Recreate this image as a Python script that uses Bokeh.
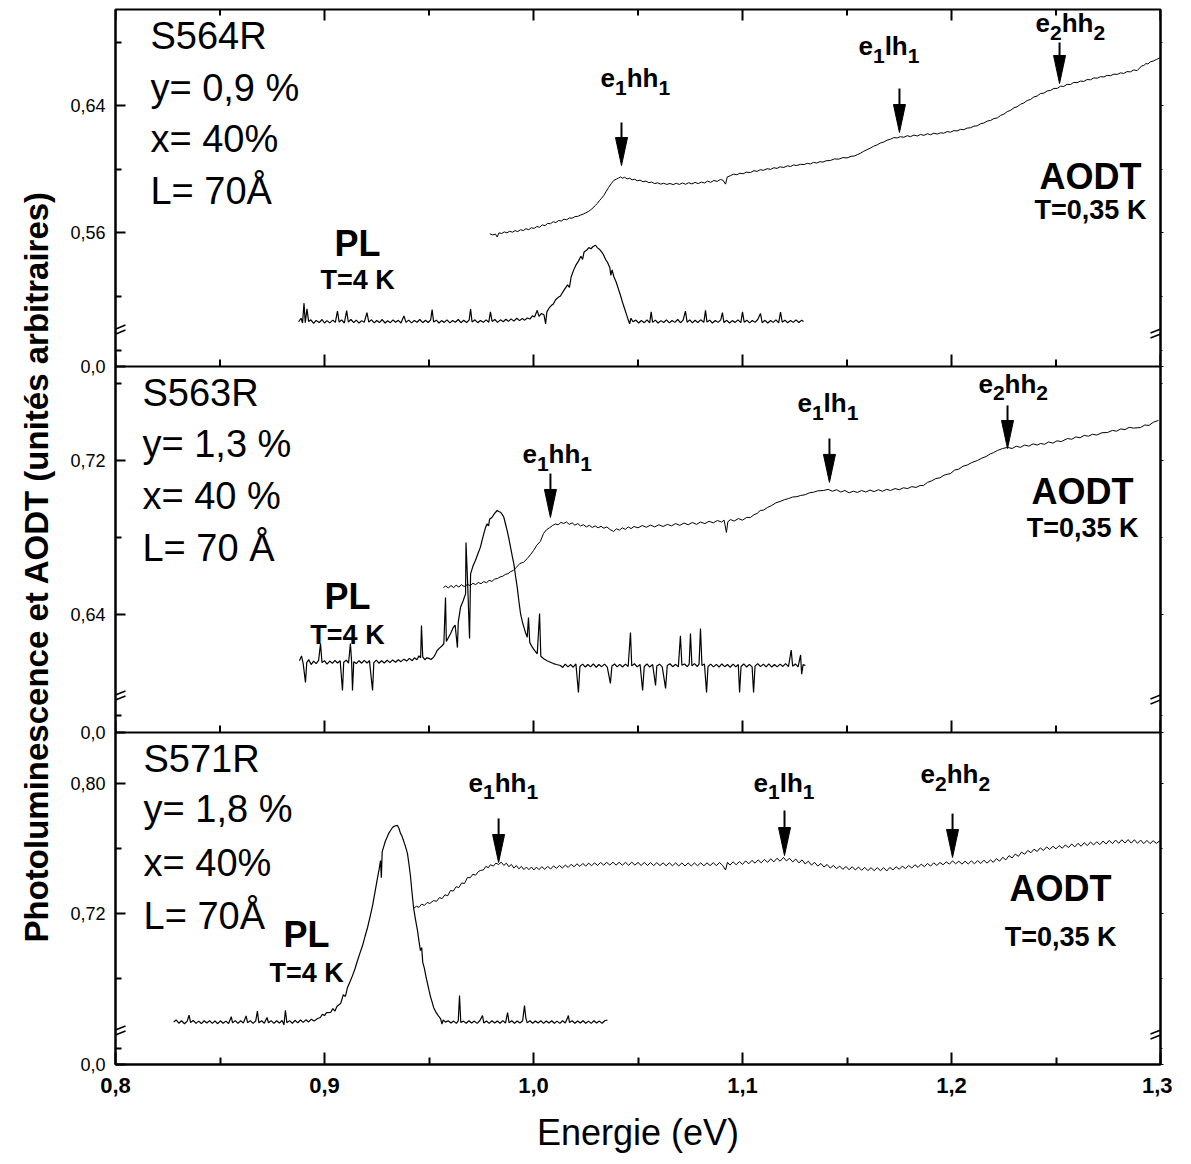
import math
from bokeh.plotting import figure
from bokeh.models import (Range1d, LinearAxis, FixedTicker, CustomJSTickFormatter,
                          ColumnDataSource, Span, Title, Arrow)
from bokeh.core.properties import value
from bokeh.embed import file_html
from bokeh.resources import INLINE

FONT = "Liberation Sans"

# ------------------------------------------------------------------ data
X_MAJOR = [0.8, 0.9, 1.0, 1.1, 1.2, 1.3]
X_MINOR = [0.85, 0.95, 1.05, 1.15, 1.25]

SAMPLES = ["S564R", "S563R", "S571R"]

# y ticks of each panel (lower, broken segment labelled "0,0")
Y_MAJOR = {"S564R": [0.4756, 0.56, 0.64],
           "S563R": [0.5787, 0.64, 0.72],
           "S571R": [0.6271, 0.72, 0.80]}
Y_MAJOR_LABELS = {"S564R": ["0,0", "0,56", "0,64"],
                  "S563R": ["0,0", "0,64", "0,72"],
                  "S571R": ["0,0", "0,72", "0,80"]}
Y_MINOR = {"S564R": [0.4857, 0.52, 0.60, 0.68],
           "S563R": [0.5875, 0.68, 0.76],
           "S571R": [0.6369, 0.68, 0.76]}
Y_BREAK = {"S564R": 0.4976, "S563R": 0.5969, "S571R": 0.6468}

SAMPLE_TEXT = {"S564R": ["S564R", "y= 0,9 %", "x= 40%", "L= 70Å"],
               "S563R": ["S563R", "y= 1,3 %", "x= 40 %", "L= 70 Å"],
               "S571R": ["S571R", "y= 1,8 %", "x= 40%", "L= 70Å"]}

# AODT spectra (energy eV, signal)
S564R_AODT = [
 (0.9791,0.5592),(0.9805,0.5585),(0.9818,0.5590),(0.9826,0.5572),(0.9835,0.5598),(0.9848,0.5594),
 (0.9860,0.5604),(0.9873,0.5598),(0.9886,0.5608),(0.9899,0.5602),(0.9912,0.5612),(0.9925,0.5606),
 (0.9938,0.5618),(0.9951,0.5612),(0.9964,0.5624),(0.9977,0.5618),(0.9990,0.5630),(1.0003,0.5626),
 (1.0016,0.5638),(1.0029,0.5633),(1.0042,0.5648),(1.0055,0.5643),(1.0068,0.5658),(1.0081,0.5655),
 (1.0094,0.5668),(1.0107,0.5663),(1.0120,0.5676),(1.0133,0.5672),(1.0146,0.5684),(1.0159,0.5680),
 (1.0172,0.5692),(1.0185,0.5690),(1.0198,0.5700),(1.0212,0.5702),(1.0225,0.5710),(1.0238,0.5716),
 (1.0250,0.5724),(1.0262,0.5732),(1.0273,0.5742),(1.0285,0.5756),(1.0296,0.5770),(1.0305,0.5783),
 (1.0315,0.5800),(1.0325,0.5815),(1.0336,0.5833),(1.0348,0.5860),(1.0360,0.5885),(1.0372,0.5908),
 (1.0384,0.5928),(1.0396,0.5936),(1.0408,0.5944),(1.0416,0.5950),(1.0426,0.5942),(1.0436,0.5948),
 (1.0448,0.5938),(1.0460,0.5942),(1.0472,0.5932),(1.0484,0.5936),(1.0496,0.5926),(1.0510,0.5930),
 (1.0524,0.5920),(1.0538,0.5924),(1.0552,0.5914),(1.0566,0.5918),(1.0580,0.5908),(1.0594,0.5913),
 (1.0608,0.5905),(1.0623,0.5910),(1.0638,0.5903),(1.0653,0.5909),(1.0668,0.5902),(1.0683,0.5910),
 (1.0698,0.5903),(1.0713,0.5912),(1.0728,0.5904),(1.0743,0.5914),(1.0758,0.5906),(1.0773,0.5916),
 (1.0788,0.5908),(1.0803,0.5918),(1.0818,0.5912),(1.0833,0.5924),(1.0848,0.5916),(1.0863,0.5928),
 (1.0879,0.5922),(1.0894,0.5934),(1.0906,0.5930),(1.0919,0.5905),(1.0927,0.5950),(1.0942,0.5958),
 (1.0958,0.5968),(1.0973,0.5964),(1.0988,0.5974),(1.1003,0.5970),(1.1018,0.5980),(1.1038,0.5978),
 (1.1055,0.5990),(1.1070,0.5985),(1.1085,0.5996),(1.1100,0.5992),(1.1118,0.6002),(1.1135,0.5998),
 (1.1150,0.6008),(1.1165,0.6004),(1.1180,0.6014),(1.1198,0.6010),(1.1215,0.6020),(1.1230,0.6016),
 (1.1245,0.6026),(1.1260,0.6022),(1.1278,0.6030),(1.1295,0.6028),(1.1310,0.6036),(1.1325,0.6032),
 (1.1340,0.6042),(1.1355,0.6038),(1.1370,0.6046),(1.1385,0.6044),(1.1400,0.6052),(1.1421,0.6054),
 (1.1440,0.6064),(1.1460,0.6062),(1.1480,0.6072),(1.1500,0.6070),(1.1520,0.6080),(1.1535,0.6082),
 (1.1549,0.6090),(1.1565,0.6100),(1.1580,0.6112),(1.1596,0.6122),(1.1612,0.6132),(1.1628,0.6144),
 (1.1644,0.6152),(1.1660,0.6164),(1.1676,0.6170),(1.1692,0.6182),(1.1708,0.6188),(1.1724,0.6198),
 (1.1740,0.6196),(1.1756,0.6204),(1.1772,0.6200),(1.1788,0.6210),(1.1804,0.6204),(1.1820,0.6214),
 (1.1836,0.6208),(1.1852,0.6218),(1.1868,0.6212),(1.1884,0.6222),(1.1900,0.6216),(1.1916,0.6226),
 (1.1932,0.6220),(1.1947,0.6228),(1.1963,0.6226),(1.1979,0.6236),(1.1995,0.6232),(1.2011,0.6242),
 (1.2027,0.6240),(1.2043,0.6250),(1.2059,0.6248),(1.2075,0.6258),(1.2091,0.6260),(1.2107,0.6270),
 (1.2123,0.6272),(1.2139,0.6285),(1.2155,0.6290),(1.2171,0.6302),(1.2187,0.6306),(1.2203,0.6318),
 (1.2219,0.6322),(1.2235,0.6338),(1.2251,0.6346),(1.2267,0.6362),(1.2283,0.6370),(1.2299,0.6386),
 (1.2314,0.6392),(1.2330,0.6408),(1.2346,0.6416),(1.2362,0.6432),(1.2378,0.6438),(1.2394,0.6454),
 (1.2410,0.6460),(1.2426,0.6476),(1.2442,0.6478),(1.2458,0.6492),(1.2474,0.6495),(1.2490,0.6508),
 (1.2506,0.6508),(1.2522,0.6522),(1.2537,0.6520),(1.2553,0.6534),(1.2569,0.6532),(1.2585,0.6546),
 (1.2601,0.6544),(1.2617,0.6554),(1.2633,0.6552),(1.2649,0.6564),(1.2665,0.6562),(1.2681,0.6574),
 (1.2697,0.6572),(1.2713,0.6582),(1.2729,0.6580),(1.2745,0.6590),(1.2761,0.6588),(1.2777,0.6598),
 (1.2793,0.6596),(1.2809,0.6606),(1.2824,0.6602),(1.2840,0.6614),(1.2856,0.6612),(1.2872,0.6624),
 (1.2888,0.6620),(1.2900,0.6636),(1.2910,0.6650),(1.2920,0.6652),(1.2930,0.6664),(1.2940,0.6662),
 (1.2952,0.6676),(1.2965,0.6680),(1.2980,0.6690),(1.2997,0.6700)]

S564R_PL = [
 (0.8876,0.5038),(0.8888,0.5060),(0.8895,0.5030),(0.8902,0.5155),(0.8908,0.5032),(0.8916,0.5120),
 (0.8924,0.5040),(0.8935,0.5050),(0.8948,0.5028),(0.8960,0.5046),(0.8975,0.5033),(0.8988,0.5052),
 (0.9000,0.5030),(0.9012,0.5045),(0.9025,0.5031),(0.9040,0.5048),(0.9052,0.5034),(0.9062,0.5105),
 (0.9070,0.5036),(0.9082,0.5050),(0.9095,0.5030),(0.9106,0.5108),(0.9114,0.5035),(0.9126,0.5052),
 (0.9140,0.5032),(0.9152,0.5048),(0.9165,0.5030),(0.9178,0.5045),(0.9190,0.5034),(0.9203,0.5095),
 (0.9212,0.5036),(0.9225,0.5050),(0.9238,0.5031),(0.9250,0.5046),(0.9263,0.5033),(0.9276,0.5052),
 (0.9290,0.5030),(0.9302,0.5044),(0.9315,0.5032),(0.9328,0.5050),(0.9340,0.5035),(0.9353,0.5047),
 (0.9366,0.5030),(0.9380,0.5075),(0.9390,0.5034),(0.9403,0.5048),(0.9416,0.5031),(0.9430,0.5046),
 (0.9443,0.5035),(0.9456,0.5052),(0.9470,0.5032),(0.9483,0.5047),(0.9496,0.5033),(0.9508,0.5050),
 (0.9515,0.5115),(0.9522,0.5036),(0.9535,0.5048),(0.9548,0.5030),(0.9560,0.5045),(0.9573,0.5034),
 (0.9586,0.5050),(0.9600,0.5031),(0.9613,0.5046),(0.9626,0.5035),(0.9640,0.5052),(0.9653,0.5032),
 (0.9666,0.5047),(0.9680,0.5033),(0.9692,0.5048),(0.9699,0.5118),(0.9706,0.5036),(0.9720,0.5050),
 (0.9733,0.5032),(0.9746,0.5046),(0.9760,0.5034),(0.9773,0.5050),(0.9786,0.5035),(0.9794,0.5100),
 (0.9802,0.5040),(0.9815,0.5052),(0.9828,0.5034),(0.9842,0.5050),(0.9855,0.5038),(0.9868,0.5054),
 (0.9880,0.5040),(0.9893,0.5056),(0.9906,0.5042),(0.9920,0.5060),(0.9933,0.5045),(0.9946,0.5058),
 (0.9958,0.5048),(0.9971,0.5062),(0.9983,0.5055),(0.9995,0.5075),(1.0005,0.5068),(1.0018,0.5110),
 (1.0026,0.5072),(1.0038,0.5090),(1.0050,0.5082),(1.0058,0.5025),(1.0064,0.5100),(1.0075,0.5125),
 (1.0085,0.5140),(1.0095,0.5150),(1.0105,0.5175),(1.0117,0.5190),(1.0129,0.5200),(1.0140,0.5225),
 (1.0150,0.5245),(1.0163,0.5270),(1.0172,0.5255),(1.0180,0.5320),(1.0191,0.5360),(1.0203,0.5395),
 (1.0215,0.5420),(1.0227,0.5450),(1.0235,0.5430),(1.0242,0.5478),(1.0255,0.5490),(1.0265,0.5505),
 (1.0275,0.5498),(1.0285,0.5512),(1.0297,0.5520),(1.0305,0.5505),(1.0315,0.5495),(1.0325,0.5480),
 (1.0335,0.5460),(1.0345,0.5430),(1.0355,0.5410),(1.0365,0.5380),(1.0370,0.5330),(1.0376,0.5365),
 (1.0385,0.5320),(1.0395,0.5290),(1.0405,0.5250),(1.0416,0.5205),(1.0426,0.5160),(1.0436,0.5120),
 (1.0446,0.5080),(1.0453,0.5050),(1.0460,0.5025),(1.0466,0.5060),(1.0476,0.5038),(1.0490,0.5048),
 (1.0503,0.5030),(1.0516,0.5046),(1.0530,0.5032),(1.0543,0.5050),(1.0556,0.5031),(1.0563,0.5100),
 (1.0570,0.5034),(1.0583,0.5048),(1.0596,0.5030),(1.0610,0.5045),(1.0623,0.5033),(1.0636,0.5050),
 (1.0650,0.5031),(1.0663,0.5046),(1.0676,0.5034),(1.0690,0.5052),(1.0703,0.5032),(1.0716,0.5048),
 (1.0727,0.5105),(1.0735,0.5035),(1.0748,0.5050),(1.0760,0.5031),(1.0773,0.5047),(1.0786,0.5033),
 (1.0800,0.5050),(1.0815,0.5034),(1.0823,0.5110),(1.0830,0.5036),(1.0843,0.5048),(1.0856,0.5030),
 (1.0870,0.5046),(1.0883,0.5034),(1.0896,0.5050),(1.0904,0.5095),(1.0911,0.5033),(1.0925,0.5047),
 (1.0938,0.5030),(1.0951,0.5045),(1.0965,0.5034),(1.0978,0.5050),(1.0992,0.5032),(1.1000,0.5100),
 (1.1008,0.5035),(1.1021,0.5048),(1.1034,0.5031),(1.1047,0.5046),(1.1060,0.5034),(1.1073,0.5052),
 (1.1086,0.5090),(1.1094,0.5032),(1.1108,0.5047),(1.1121,0.5030),(1.1134,0.5046),(1.1147,0.5034),
 (1.1160,0.5050),(1.1173,0.5031),(1.1182,0.5098),(1.1190,0.5035),(1.1203,0.5048),(1.1216,0.5032),
 (1.1230,0.5046),(1.1243,0.5034),(1.1256,0.5050),(1.1270,0.5033),(1.1283,0.5048),(1.1292,0.5040)]

S563R_AODT = [
 (0.9569,0.6540),(0.9580,0.6548),(0.9592,0.6538),(0.9605,0.6550),(0.9618,0.6540),(0.9630,0.6552),
 (0.9643,0.6542),(0.9655,0.6555),(0.9668,0.6545),(0.9684,0.6556),(0.9697,0.6550),(0.9710,0.6562),
 (0.9723,0.6555),(0.9736,0.6566),(0.9749,0.6560),(0.9762,0.6571),(0.9775,0.6565),(0.9788,0.6577),
 (0.9801,0.6572),(0.9814,0.6584),(0.9828,0.6587),(0.9840,0.6595),(0.9852,0.6598),(0.9865,0.6608),
 (0.9878,0.6612),(0.9890,0.6622),(0.9904,0.6629),(0.9918,0.6645),(0.9935,0.6665),(0.9952,0.6671),
 (0.9970,0.6690),(0.9985,0.6710),(1.0000,0.6732),(1.0016,0.6760),(1.0033,0.6780),(1.0048,0.6821),
 (1.0062,0.6840),(1.0076,0.6850),(1.0091,0.6862),(1.0105,0.6870),(1.0118,0.6866),(1.0131,0.6878),
 (1.0144,0.6873),(1.0158,0.6880),(1.0171,0.6868),(1.0185,0.6876),(1.0198,0.6864),(1.0212,0.6872),
 (1.0225,0.6860),(1.0239,0.6866),(1.0253,0.6855),(1.0267,0.6863),(1.0281,0.6852),(1.0295,0.6860),
 (1.0309,0.6850),(1.0323,0.6858),(1.0337,0.6848),(1.0351,0.6855),(1.0365,0.6842),(1.0383,0.6831),
 (1.0397,0.6845),(1.0411,0.6838),(1.0425,0.6850),(1.0439,0.6842),(1.0453,0.6855),(1.0467,0.6846),
 (1.0481,0.6857),(1.0500,0.6850),(1.0520,0.6862),(1.0540,0.6853),(1.0560,0.6864),(1.0580,0.6855),
 (1.0600,0.6866),(1.0620,0.6857),(1.0641,0.6868),(1.0660,0.6860),(1.0680,0.6872),(1.0700,0.6863),
 (1.0720,0.6875),(1.0740,0.6866),(1.0760,0.6878),(1.0780,0.6868),(1.0799,0.6880),(1.0820,0.6872),
 (1.0840,0.6884),(1.0860,0.6876),(1.0880,0.6888),(1.0900,0.6880),(1.0912,0.6890),(1.0923,0.6826),
 (1.0930,0.6882),(1.0943,0.6893),(1.0960,0.6885),(1.0980,0.6898),(1.1000,0.6890),(1.1020,0.6904),
 (1.1038,0.6904),(1.1055,0.6918),(1.1070,0.6925),(1.1085,0.6940),(1.1100,0.6942),(1.1120,0.6956),
 (1.1140,0.6966),(1.1160,0.6980),(1.1180,0.6987),(1.1200,0.6996),(1.1220,0.7002),(1.1240,0.7010),
 (1.1260,0.7012),(1.1278,0.7018),(1.1300,0.7022),(1.1320,0.7032),(1.1340,0.7035),(1.1360,0.7042),
 (1.1388,0.7044),(1.1410,0.7050),(1.1430,0.7040),(1.1450,0.7048),(1.1470,0.7036),(1.1490,0.7044),
 (1.1510,0.7032),(1.1530,0.7040),(1.1550,0.7034),(1.1570,0.7044),(1.1590,0.7036),(1.1610,0.7046),
 (1.1630,0.7038),(1.1650,0.7048),(1.1670,0.7040),(1.1690,0.7050),(1.1708,0.7044),(1.1730,0.7054),
 (1.1750,0.7048),(1.1770,0.7058),(1.1790,0.7054),(1.1810,0.7064),(1.1830,0.7060),(1.1850,0.7070),
 (1.1866,0.7070),(1.1885,0.7086),(1.1905,0.7094),(1.1925,0.7106),(1.1945,0.7110),(1.1965,0.7124),
 (1.1995,0.7132),(1.2015,0.7150),(1.2035,0.7155),(1.2055,0.7170),(1.2075,0.7176),(1.2095,0.7188),
 (1.2124,0.7200),(1.2145,0.7212),(1.2165,0.7220),(1.2185,0.7234),(1.2200,0.7240),(1.2220,0.7252),
 (1.2245,0.7262),(1.2268,0.7268),(1.2290,0.7262),(1.2310,0.7274),(1.2330,0.7268),(1.2350,0.7280),
 (1.2370,0.7274),(1.2390,0.7286),(1.2410,0.7280),(1.2426,0.7288),(1.2445,0.7284),(1.2465,0.7296),
 (1.2485,0.7290),(1.2505,0.7302),(1.2525,0.7298),(1.2555,0.7314),(1.2575,0.7310),(1.2595,0.7322),
 (1.2615,0.7318),(1.2635,0.7330),(1.2655,0.7326),(1.2675,0.7336),(1.2695,0.7332),(1.2720,0.7344),
 (1.2746,0.7345),(1.2770,0.7356),(1.2790,0.7352),(1.2810,0.7364),(1.2830,0.7360),(1.2850,0.7372),
 (1.2870,0.7368),(1.2904,0.7371),(1.2925,0.7384),(1.2945,0.7382),(1.2965,0.7398),(1.2990,0.7408)]

S563R_PL = [
 (0.8880,0.6160),(0.8890,0.6185),(0.8898,0.6145),(0.8909,0.6047),(0.8915,0.6150),(0.8925,0.6165),
 (0.8936,0.6140),(0.8948,0.6158),(0.8960,0.6145),(0.8972,0.6162),(0.8981,0.6249),(0.8988,0.6150),
 (0.9000,0.6160),(0.9012,0.6142),(0.9025,0.6158),(0.9038,0.6146),(0.9050,0.6162),(0.9062,0.6148),
 (0.9075,0.6160),(0.9086,0.6005),(0.9092,0.6152),(0.9104,0.6163),(0.9115,0.6147),(0.9124,0.6249),
 (0.9130,0.6150),(0.9134,0.6005),(0.9140,0.6155),(0.9152,0.6145),(0.9165,0.6160),(0.9178,0.6147),
 (0.9190,0.6162),(0.9203,0.6148),(0.9215,0.6160),(0.9230,0.6005),(0.9236,0.6150),(0.9248,0.6163),
 (0.9260,0.6147),(0.9273,0.6160),(0.9286,0.6148),(0.9300,0.6162),(0.9313,0.6150),(0.9326,0.6164),
 (0.9340,0.6152),(0.9353,0.6165),(0.9366,0.6155),(0.9380,0.6168),(0.9393,0.6158),(0.9406,0.6172),
 (0.9420,0.6160),(0.9430,0.6175),(0.9442,0.6165),(0.9452,0.6185),(0.9460,0.6175),(0.9464,0.6343),
 (0.9470,0.6180),(0.9480,0.6165),(0.9490,0.6175),(0.9500,0.6172),(0.9510,0.6166),(0.9523,0.6180),
 (0.9531,0.6195),(0.9539,0.6213),(0.9550,0.6225),(0.9560,0.6235),(0.9571,0.6248),(0.9579,0.6488),
 (0.9583,0.6260),(0.9593,0.6280),(0.9603,0.6300),(0.9615,0.6330),(0.9625,0.6345),(0.9636,0.6228),
 (0.9640,0.6360),(0.9651,0.6438),(0.9663,0.6470),(0.9675,0.6507),(0.9677,0.6774),(0.9685,0.6560),
 (0.9694,0.6275),(0.9699,0.6611),(0.9710,0.6650),(0.9722,0.6680),(0.9734,0.6715),(0.9746,0.6750),
 (0.9754,0.6785),(0.9762,0.6819),(0.9770,0.6850),(0.9778,0.6871),(0.9785,0.6860),(0.9790,0.6895),
 (0.9802,0.6905),(0.9814,0.6925),(0.9826,0.6940),(0.9834,0.6935),(0.9842,0.6931),(0.9850,0.6920),
 (0.9858,0.6905),(0.9866,0.6870),(0.9874,0.6836),(0.9882,0.6795),(0.9890,0.6750),(0.9898,0.6705),
 (0.9906,0.6663),(0.9914,0.6600),(0.9922,0.6542),(0.9930,0.6470),(0.9938,0.6404),(0.9946,0.6365),
 (0.9954,0.6334),(0.9962,0.6305),(0.9970,0.6282),(0.9976,0.6384),(0.9982,0.6255),(0.9994,0.6230),
 (1.0006,0.6212),(1.0018,0.6196),(1.0029,0.6405),(1.0035,0.6183),(1.0049,0.6170),(1.0065,0.6160),
 (1.0081,0.6152),(1.0095,0.6145),(1.0110,0.6140),(1.0129,0.6135),(1.0140,0.6125),(1.0152,0.6142),
 (1.0165,0.6128),(1.0178,0.6140),(1.0190,0.6126),(1.0203,0.6143),(1.0215,0.5995),(1.0222,0.6130),
 (1.0235,0.6142),(1.0248,0.6127),(1.0260,0.6140),(1.0273,0.6128),(1.0286,0.6143),(1.0300,0.6126),
 (1.0313,0.6140),(1.0326,0.6129),(1.0340,0.6142),(1.0353,0.6127),(1.0368,0.6042),(1.0375,0.6132),
 (1.0388,0.6143),(1.0400,0.6128),(1.0413,0.6141),(1.0426,0.6127),(1.0440,0.6142),(1.0453,0.6130),
 (1.0464,0.6306),(1.0470,0.6133),(1.0483,0.6144),(1.0496,0.6128),(1.0510,0.6140),(1.0522,0.6005),
 (1.0530,0.6130),(1.0543,0.6143),(1.0556,0.6127),(1.0570,0.6140),(1.0584,0.6031),(1.0590,0.6132),
 (1.0603,0.6142),(1.0616,0.6128),(1.0632,0.6016),(1.0640,0.6135),(1.0653,0.6144),(1.0666,0.6129),
 (1.0680,0.6141),(1.0693,0.6128),(1.0703,0.6289),(1.0710,0.6136),(1.0723,0.6143),(1.0736,0.6129),
 (1.0745,0.6142),(1.0751,0.6301),(1.0758,0.6133),(1.0770,0.6145),(1.0784,0.6130),(1.0792,0.6142),
 (1.0799,0.6327),(1.0806,0.6135),(1.0818,0.6143),(1.0828,0.5995),(1.0835,0.6130),(1.0848,0.6142),
 (1.0861,0.6128),(1.0875,0.6141),(1.0888,0.6127),(1.0901,0.6143),(1.0915,0.6129),(1.0928,0.6140),
 (1.0941,0.6126),(1.0955,0.6142),(1.0968,0.6128),(1.0980,0.6140),(1.0986,0.5995),(1.0993,0.6130),
 (1.1006,0.6143),(1.1020,0.6127),(1.1033,0.6141),(1.1046,0.6128),(1.1053,0.5995),(1.1060,0.6132),
 (1.1073,0.6145),(1.1086,0.6129),(1.1100,0.6142),(1.1113,0.6128),(1.1126,0.6143),(1.1140,0.6127),
 (1.1153,0.6140),(1.1166,0.6128),(1.1180,0.6142),(1.1193,0.6130),(1.1206,0.6145),(1.1220,0.6129),
 (1.1233,0.6215),(1.1240,0.6131),(1.1253,0.6143),(1.1266,0.6128),(1.1278,0.6190),(1.1283,0.6090),
 (1.1290,0.6140),(1.1301,0.6135)]

S571R_AODT = [
 (0.9426,0.7231),(0.9440,0.7245),(0.9452,0.7238),(0.9465,0.7258),(0.9478,0.7250),(0.9491,0.7268),
 (0.9504,0.7262),(0.9522,0.7280),(0.9536,0.7275),(0.9550,0.7298),(0.9563,0.7292),(0.9576,0.7315),
 (0.9590,0.7310),(0.9603,0.7342),(0.9616,0.7338),(0.9630,0.7365),(0.9643,0.7360),(0.9656,0.7388),
 (0.9670,0.7385),(0.9684,0.7422),(0.9697,0.7420),(0.9710,0.7442),(0.9723,0.7436),(0.9736,0.7458),
 (0.9746,0.7465),(0.9760,0.7468),(0.9772,0.7490),(0.9784,0.7482),(0.9794,0.7500),(0.9808,0.7492),
 (0.9820,0.7510),(0.9833,0.7502),(0.9846,0.7516),(0.9858,0.7496),(0.9870,0.7510),(0.9882,0.7488),
 (0.9894,0.7502),(0.9906,0.7480),(0.9918,0.7495),(0.9930,0.7475),(0.9942,0.7490),(0.9954,0.7470),
 (0.9966,0.7486),(0.9978,0.7470),(0.9990,0.7486),(1.0002,0.7468),(1.0014,0.7486),(1.0026,0.7470),
 (1.0040,0.7488),(1.0054,0.7472),(1.0068,0.7490),(1.0082,0.7474),(1.0096,0.7493),(1.0110,0.7478),
 (1.0124,0.7496),(1.0138,0.7480),(1.0152,0.7498),(1.0166,0.7484),(1.0180,0.7503),(1.0194,0.7488),
 (1.0208,0.7506),(1.0222,0.7490),(1.0236,0.7508),(1.0250,0.7492),(1.0264,0.7510),(1.0278,0.7494),
 (1.0292,0.7512),(1.0306,0.7496),(1.0321,0.7514),(1.0336,0.7498),(1.0350,0.7515),(1.0365,0.7498),
 (1.0380,0.7516),(1.0395,0.7498),(1.0410,0.7515),(1.0425,0.7497),(1.0440,0.7515),(1.0455,0.7497),
 (1.0470,0.7516),(1.0485,0.7498),(1.0500,0.7514),(1.0515,0.7496),(1.0530,0.7514),(1.0545,0.7496),
 (1.0560,0.7513),(1.0575,0.7495),(1.0590,0.7513),(1.0605,0.7495),(1.0620,0.7512),(1.0635,0.7494),
 (1.0650,0.7512),(1.0665,0.7494),(1.0680,0.7511),(1.0695,0.7493),(1.0710,0.7511),(1.0725,0.7493),
 (1.0740,0.7511),(1.0755,0.7493),(1.0770,0.7511),(1.0785,0.7494),(1.0800,0.7512),(1.0815,0.7494),
 (1.0830,0.7512),(1.0845,0.7495),(1.0860,0.7513),(1.0875,0.7495),(1.0890,0.7514),(1.0905,0.7496),
 (1.0919,0.7468),(1.0928,0.7515),(1.0940,0.7498),(1.0955,0.7518),(1.0970,0.7500),(1.0985,0.7520),
 (1.1000,0.7502),(1.1015,0.7524),(1.1030,0.7506),(1.1045,0.7527),(1.1060,0.7510),(1.1075,0.7530),
 (1.1090,0.7512),(1.1105,0.7533),(1.1120,0.7515),(1.1135,0.7536),(1.1150,0.7518),(1.1165,0.7540),
 (1.1180,0.7522),(1.1196,0.7545),(1.1210,0.7524),(1.1225,0.7540),(1.1240,0.7518),(1.1255,0.7535),
 (1.1270,0.7512),(1.1285,0.7530),(1.1300,0.7505),(1.1315,0.7522),(1.1330,0.7498),(1.1345,0.7515),
 (1.1360,0.7492),(1.1375,0.7508),(1.1390,0.7486),(1.1405,0.7502),(1.1420,0.7480),(1.1435,0.7496),
 (1.1450,0.7476),(1.1465,0.7492),(1.1480,0.7472),(1.1495,0.7489),(1.1510,0.7470),(1.1525,0.7488),
 (1.1540,0.7468),(1.1555,0.7486),(1.1570,0.7466),(1.1585,0.7484),(1.1600,0.7464),(1.1615,0.7482),
 (1.1630,0.7464),(1.1645,0.7482),(1.1660,0.7464),(1.1675,0.7482),(1.1690,0.7462),(1.1705,0.7484),
 (1.1720,0.7468),(1.1735,0.7488),(1.1750,0.7472),(1.1765,0.7492),(1.1780,0.7476),(1.1795,0.7496),
 (1.1810,0.7480),(1.1825,0.7500),(1.1840,0.7484),(1.1855,0.7504),(1.1870,0.7488),(1.1885,0.7508),
 (1.1900,0.7492),(1.1915,0.7512),(1.1930,0.7496),(1.1945,0.7514),(1.1960,0.7500),(1.1975,0.7518),
 (1.1990,0.7504),(1.2005,0.7524),(1.2020,0.7506),(1.2035,0.7522),(1.2050,0.7504),(1.2065,0.7522),
 (1.2080,0.7505),(1.2095,0.7524),(1.2110,0.7506),(1.2125,0.7526),(1.2140,0.7508),(1.2155,0.7528),
 (1.2170,0.7510),(1.2187,0.7530),(1.2200,0.7515),(1.2215,0.7538),(1.2230,0.7522),(1.2245,0.7546),
 (1.2260,0.7530),(1.2275,0.7556),(1.2290,0.7542),(1.2305,0.7566),(1.2320,0.7552),(1.2335,0.7578),
 (1.2350,0.7565),(1.2365,0.7588),(1.2380,0.7574),(1.2395,0.7596),(1.2410,0.7582),(1.2425,0.7604),
 (1.2440,0.7588),(1.2455,0.7610),(1.2470,0.7594),(1.2485,0.7614),(1.2500,0.7598),(1.2515,0.7618),
 (1.2530,0.7602),(1.2545,0.7622),(1.2560,0.7606),(1.2575,0.7628),(1.2590,0.7610),(1.2605,0.7632),
 (1.2620,0.7614),(1.2635,0.7636),(1.2650,0.7618),(1.2665,0.7640),(1.2680,0.7622),(1.2695,0.7642),
 (1.2710,0.7624),(1.2725,0.7646),(1.2740,0.7628),(1.2755,0.7650),(1.2770,0.7630),(1.2785,0.7652),
 (1.2800,0.7632),(1.2815,0.7654),(1.2830,0.7634),(1.2845,0.7655),(1.2860,0.7633),(1.2875,0.7654),
 (1.2890,0.7632),(1.2905,0.7652),(1.2920,0.7630),(1.2935,0.7650),(1.2950,0.7630),(1.2965,0.7648),
 (1.2980,0.7632),(1.2997,0.7648)]

S571R_PL = [
 (0.8278,0.6532),(0.8290,0.6545),(0.8303,0.6525),(0.8316,0.6540),(0.8330,0.6522),(0.8343,0.6538),
 (0.8352,0.6575),(0.8359,0.6530),(0.8372,0.6542),(0.8385,0.6524),(0.8398,0.6538),(0.8411,0.6523),
 (0.8424,0.6540),(0.8437,0.6526),(0.8450,0.6541),(0.8463,0.6524),(0.8476,0.6539),(0.8489,0.6522),
 (0.8502,0.6540),(0.8515,0.6525),(0.8528,0.6538),(0.8541,0.6523),(0.8554,0.6565),(0.8560,0.6527),
 (0.8573,0.6541),(0.8586,0.6524),(0.8599,0.6540),(0.8612,0.6526),(0.8625,0.6570),(0.8632,0.6528),
 (0.8645,0.6541),(0.8658,0.6524),(0.8671,0.6539),(0.8679,0.6600),(0.8686,0.6527),(0.8699,0.6540),
 (0.8712,0.6525),(0.8725,0.6560),(0.8732,0.6528),(0.8745,0.6541),(0.8758,0.6524),(0.8771,0.6540),
 (0.8784,0.6526),(0.8797,0.6542),(0.8806,0.6515),(0.8813,0.6605),(0.8820,0.6528),(0.8833,0.6541),
 (0.8846,0.6525),(0.8859,0.6543),(0.8872,0.6527),(0.8885,0.6545),(0.8898,0.6530),(0.8911,0.6546),
 (0.8924,0.6533),(0.8937,0.6550),(0.8950,0.6538),(0.8967,0.6554),(0.8980,0.6560),(0.8990,0.6580),
 (0.9000,0.6572),(0.9010,0.6590),(0.9029,0.6591),(0.9040,0.6615),(0.9050,0.6600),(0.9060,0.6630),
 (0.9077,0.6646),(0.9090,0.6700),(0.9100,0.6690),(0.9110,0.6745),(0.9122,0.6780),(0.9134,0.6818),
 (0.9146,0.6860),(0.9158,0.6911),(0.9170,0.6958),(0.9182,0.7003),(0.9194,0.7060),(0.9206,0.7114),
 (0.9218,0.7180),(0.9230,0.7249),(0.9242,0.7335),(0.9254,0.7422),(0.9261,0.7470),(0.9268,0.7526),
 (0.9272,0.7420),(0.9276,0.7580),(0.9282,0.7606),(0.9291,0.7645),(0.9301,0.7674),(0.9308,0.7695),
 (0.9316,0.7711),(0.9323,0.7725),(0.9330,0.7735),(0.9340,0.7740),(0.9349,0.7742),(0.9356,0.7725),
 (0.9364,0.7692),(0.9371,0.7675),(0.9378,0.7649),(0.9388,0.7610),(0.9397,0.7569),(0.9404,0.7505),
 (0.9411,0.7434),(0.9418,0.7340),(0.9426,0.7237),(0.9435,0.7165),(0.9445,0.7095),(0.9452,0.7030),
 (0.9459,0.6972),(0.9465,0.6990),(0.9470,0.6900),(0.9478,0.6862),(0.9485,0.6815),(0.9493,0.6769),
 (0.9500,0.6728),(0.9507,0.6689),(0.9515,0.6655),(0.9522,0.6622),(0.9531,0.6598),(0.9541,0.6578),
 (0.9548,0.6565),(0.9555,0.6554),(0.9562,0.6520),(0.9568,0.6545),(0.9579,0.6532),(0.9592,0.6540),
 (0.9605,0.6526),(0.9618,0.6538),(0.9631,0.6524),(0.9640,0.6540),(0.9646,0.6695),(0.9652,0.6530),
 (0.9665,0.6538),(0.9678,0.6525),(0.9691,0.6540),(0.9704,0.6526),(0.9717,0.6538),(0.9730,0.6524),
 (0.9743,0.6540),(0.9756,0.6572),(0.9762,0.6527),(0.9775,0.6539),(0.9788,0.6524),(0.9801,0.6540),
 (0.9814,0.6526),(0.9827,0.6539),(0.9840,0.6525),(0.9853,0.6541),(0.9866,0.6526),(0.9876,0.6591),
 (0.9883,0.6528),(0.9896,0.6540),(0.9909,0.6525),(0.9922,0.6539),(0.9935,0.6526),(0.9948,0.6540),
 (0.9957,0.6634),(0.9963,0.6560),(0.9970,0.6527),(0.9983,0.6540),(0.9996,0.6525),(1.0009,0.6539),
 (1.0022,0.6526),(1.0035,0.6540),(1.0048,0.6524),(1.0061,0.6539),(1.0074,0.6526),(1.0087,0.6540),
 (1.0100,0.6525),(1.0113,0.6538),(1.0126,0.6524),(1.0139,0.6540),(1.0152,0.6526),(1.0162,0.6555),
 (1.0167,0.6572),(1.0172,0.6530),(1.0185,0.6540),(1.0198,0.6525),(1.0211,0.6539),(1.0224,0.6526),
 (1.0237,0.6540),(1.0250,0.6525),(1.0263,0.6538),(1.0276,0.6524),(1.0289,0.6540),(1.0302,0.6526),
 (1.0315,0.6538),(1.0328,0.6525),(1.0341,0.6540),(1.0354,0.6545)]

AODT = {"S564R": S564R_AODT, "S563R": S563R_AODT, "S571R": S571R_AODT}
PL = {"S564R": S564R_PL, "S563R": S563R_PL, "S571R": S571R_PL}

# transitions: (parts, label left x, label baseline, arrow x, arrow top, arrow tip)
TRANSITIONS = {
 "S564R": [(("e", "1", "hh", "1"), 1.0321, 0.6513, 1.0421, 0.6293, 0.6022),
           (("e", "1", "lh", "1"), 1.1555, 0.6715, 1.1751, 0.6507, 0.6230),
           (("e", "2", "hh", "2"), 1.2402, 0.6860, 1.2517, 0.6797, 0.6539)],
 "S563R": [(("e", "1", "hh", "1"), 0.9947, 0.7184, 1.0081, 0.7132, 0.6904),
           (("e", "1", "lh", "1"), 1.1263, 0.7449, 1.1416, 0.7314, 0.7086),
           (("e", "2", "hh", "2"), 1.2129, 0.7548, 1.2268, 0.7486, 0.7262)],
 "S571R": [(("e", "1", "hh", "1"), 0.9689, 0.7945, 0.9833, 0.7785, 0.7514),
           (("e", "1", "lh", "1"), 1.1053, 0.7945, 1.1201, 0.7834, 0.7557),
           (("e", "2", "hh", "2"), 1.1852, 0.8000, 1.2005, 0.7815, 0.7545)],
}

# ------------------------------------------------------------------ layout (not data)
FRAME_W, FRAME_H = 1045, 1055
PX_PER_EV = FRAME_W / 0.5
BASE_K = 0.38   # baseline correction (fraction of font size) for text glyphs
PANEL_BOX = {"S564R": (698, 1055), "S563R": (332, 698), "S571R": (0, 332)}
PANEL_VAL = {"S564R": (0.4756, 0.7005), "S563R": (0.5787, 0.7688), "S571R": (0.6271, 0.8314)}
TEXT_POS = {  # x, baselines of 4 lines, PL (x, y, y2), AODT (x, y, y2)
 "S564R": (0.8167, [0.6746, 0.6418, 0.6098, 0.5770], (0.9158, 0.5443, 0.5234), (1.2665, 0.5865, 0.5676)),
 "S563R": (0.8129, [0.7475, 0.7210, 0.6940, 0.6670], (0.9110, 0.6421, 0.6239), (1.2627, 0.6966, 0.6795)),
 "S571R": (0.8134, [0.8062, 0.7754, 0.7422, 0.7095], (0.8914, 0.6985, 0.6769), (1.2522, 0.7268, 0.6991)),
}


def scale_of(name):
    b, t = PANEL_BOX[name]
    lo, hi = PANEL_VAL[name]
    return (hi - lo) / (t - b)


def lay(name, v):
    b, t = PANEL_BOX[name]
    lo, hi = PANEL_VAL[name]
    return b + (v - lo) / scale_of(name)


p = figure(frame_width=FRAME_W, frame_height=FRAME_H,
           x_range=Range1d(0.8, 1.3), y_range=Range1d(0, FRAME_H),
           output_backend="svg", toolbar_location=None,
           min_border_left=115, min_border_top=9, min_border_bottom=95, min_border_right=12)
p.background_fill_color = "white"
p.border_fill_color = "white"
p.outline_line_color = "black"
p.outline_line_width = 2
p.xgrid.visible = False
p.ygrid.visible = False

for name in SAMPLES:
    b, t = PANEL_BOX[name]
    lo, hi = PANEL_VAL[name]
    s = scale_of(name)
    p.extra_y_ranges[name] = Range1d(lo - b * s, hi + (FRAME_H - t) * s)

# ---- x axis
xa = p.xaxis[0]
xa.ticker = FixedTicker(ticks=X_MAJOR, minor_ticks=X_MINOR)
xa.formatter = CustomJSTickFormatter(code="return tick.toFixed(1).replace('.', ',');")
xa.major_tick_in, xa.major_tick_out = 12, 0
xa.minor_tick_in, xa.minor_tick_out = 7, 0
xa.axis_line_width = 2
xa.major_tick_line_width = 2
xa.minor_tick_line_width = 2
xa.major_label_text_font = FONT
xa.major_label_text_font_style = "bold"
xa.major_label_text_font_size = "22px"
xa.major_label_text_color = "black"
xa.major_label_standoff = 13
xa.axis_label = "Energie (eV)"
xa.axis_label_text_font = FONT
xa.axis_label_text_font_style = "normal"
xa.axis_label_text_font_size = "36px"
xa.axis_label_text_color = "black"
xa.axis_label_standoff = 16

# ---- y axis with ticks of all three panels
ymaj, ylab, ymin = [], [], []
for name in SAMPLES:
    for v, l in zip(Y_MAJOR[name], Y_MAJOR_LABELS[name]):
        ymaj.append(round(lay(name, v), 3))
        ylab.append(l)
    for v in Y_MINOR[name]:
        ymin.append(round(lay(name, v), 3))
yticker = FixedTicker(ticks=ymaj, minor_ticks=ymin)
ya = p.yaxis[0]
ya.ticker = yticker
ya.formatter = CustomJSTickFormatter(args=dict(tpos=ymaj, tlab=ylab), code="""
for (let i = 0; i < tpos.length; i++) { if (Math.abs(tpos[i] - tick) < 0.5) return tlab[i]; }
return '';""")
ya.major_tick_in, ya.major_tick_out = 10, 0
ya.minor_tick_in, ya.minor_tick_out = 6, 0
ya.axis_line_width = 2
ya.major_tick_line_width = 2
ya.minor_tick_line_width = 2
ya.major_label_text_font = FONT
ya.major_label_text_font_size = "18px"
ya.major_label_text_color = "black"
ya.major_label_standoff = 10

ra = LinearAxis(ticker=yticker, formatter=CustomJSTickFormatter(code="return '';"),
                major_tick_in=0, major_tick_out=3, minor_tick_in=0, minor_tick_out=2,
                axis_line_width=2, major_label_standoff=0)
p.add_layout(ra, "right")

p.add_layout(Title(text="Photoluminescence et AODT (unités arbitraires)", align="left",
                   vertical_align="top", offset=122, standoff=22, text_font=FONT,
                   text_font_style="bold", text_font_size="33px", text_color="black"), "left")

# ---- panel separators and their x ticks
for name in SAMPLES[1:]:
    top = PANEL_BOX[name][1]
    p.add_layout(Span(location=top, dimension="width", line_color="black", line_width=2))
tx0, ty0, tx1, ty1 = [], [], [], []
for name in SAMPLES:
    b, t = PANEL_BOX[name]
    for ticks, ln in ((X_MAJOR, 12), (X_MINOR, 7)):
        for x in ticks:
            if name != "S571R":
                tx0.append(x); tx1.append(x); ty0.append(b); ty1.append(b + ln)
            if name == "S564R":
                tx0.append(x); tx1.append(x); ty0.append(t); ty1.append(t - ln + 1)
p.segment(x0=tx0, y0=ty0, x1=tx1, y1=ty1, line_color="black", line_width=2)

# ---- axis breaks
dx = 10 / PX_PER_EV
for name in SAMPLES:
    c = lay(name, Y_BREAK[name])
    for x0 in (0.8, 1.3):
        for off in (2.5, -2.5):
            p.add_layout(Arrow(x_start=x0 - dx, y_start=c + off - 4, x_end=x0 + dx, y_end=c + off + 4,
                               start=None, end=None, line_color="black", line_width=1.6))

# ---- curves, texts, arrows
W = {"e": 0.556, "h": 0.611, "l": 0.278, "1": 0.556, "2": 0.556}
MAIN_FS, SUB_FS = 26, 21
for name in SAMPLES:
    s = scale_of(name)
    pe, pv = zip(*PL[name])
    p.line(list(pe), list(pv), y_range_name=name, line_color="black", line_width=1.2)
    ae, av = zip(*AODT[name])
    p.line(list(ae), list(av), y_range_name=name, line_color="black", line_width=1)

    x0, bases, plpos, aopos = TEXT_POS[name]
    p.text(x=[x0] * 4, y=bases, text=SAMPLE_TEXT[name], y_range_name=name, y_offset=-BASE_K * 38,
           text_font=value(FONT), text_font_size=value("38px"), text_baseline="alphabetic",
           text_align="left", text_color="black")
    p.text(x=[plpos[0], aopos[0]], y=[plpos[1], aopos[1]], text=["PL", "AODT"], y_range_name=name,
           y_offset=-BASE_K * 36,
           text_font=value(FONT), text_font_size=value("36px"), text_font_style="bold",
           text_baseline="alphabetic", text_align="center", text_color="black")
    p.text(x=[plpos[0], aopos[0]], y=[plpos[2], aopos[2]], text=["T=4 K", "T=0,35 K"], y_range_name=name,
           y_offset=-BASE_K * 27,
           text_font=value(FONT), text_font_size=value("27px"), text_font_style="bold",
           text_baseline="alphabetic", text_align="center", text_color="black")

    mx, my, mt, mo = [], [], [], []
    sx, sy, st, so = [], [], [], []
    hx, hy = [], []
    for parts, lx, ly, axx, atop, atip in TRANSITIONS[name]:
        off = 0.0
        for k, part in enumerate(parts):
            if k % 2 == 0:
                mx.append(lx); my.append(ly); mt.append(part); mo.append(off)
                off += sum(W[c] for c in part) * MAIN_FS
            else:
                sx.append(lx); sy.append(ly); st.append(part); so.append(off)
                off += sum(W[c] for c in part) * SUB_FS
        head_base = atip + 28 * s
        p.segment(x0=[axx], y0=[atop], x1=[axx], y1=[head_base], y_range_name=name,
                  line_color="black", line_width=2)
        hw = 6 / PX_PER_EV
        hx.append([axx - hw, axx + hw, axx]); hy.append([head_base, head_base, atip])
    p.patches(hx, hy, y_range_name=name, fill_color="black", line_color="black", line_width=1)
    p.text(x="x", y="y", text="t", x_offset="o", y_offset=-BASE_K * MAIN_FS,
           source=ColumnDataSource(dict(x=mx, y=my, t=mt, o=mo)), y_range_name=name,
           text_font=value(FONT), text_font_size=value(f"{MAIN_FS}px"), text_font_style="bold",
           text_baseline="alphabetic", text_align="left", text_color="black")
    p.text(x="x", y="y", text="t", x_offset="o", y_offset=8 - BASE_K * SUB_FS,
           source=ColumnDataSource(dict(x=sx, y=sy, t=st, o=so)), y_range_name=name,
           text_font=value(FONT), text_font_size=value(f"{SUB_FS}px"), text_font_style="bold",
           text_baseline="alphabetic", text_align="left", text_color="black")

open("out.html", "w").write(file_html(p, INLINE))
